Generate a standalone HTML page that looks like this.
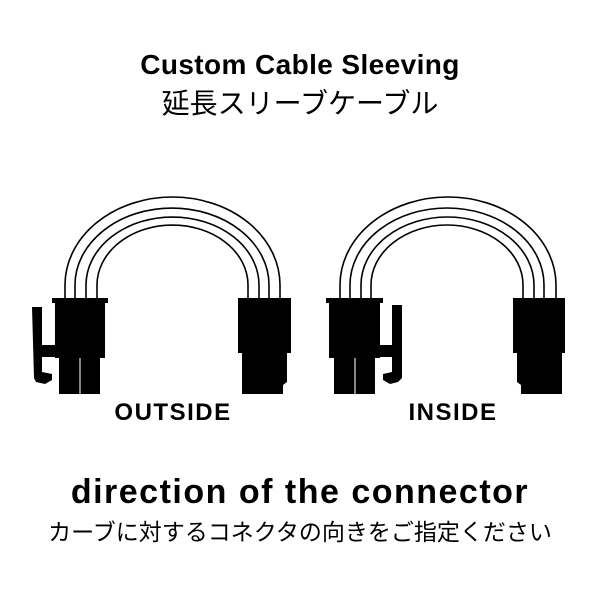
<!DOCTYPE html>
<html><head><meta charset="utf-8"><style>
body{margin:0;background:#fff;}
.w{position:relative;width:600px;height:600px;overflow:hidden;font-family:"Liberation Sans","Noto Sans CJK JP",sans-serif;}
.t{position:absolute;left:0;width:600px;text-align:center;white-space:nowrap;color:#000;line-height:1;}
</style></head><body><div class="w">
<div class="t" style="top:51px;font-size:28px;font-weight:bold;letter-spacing:0.4px;">Custom Cable Sleeving</div>
<div class="t" style="top:90px;font-size:28px;">延長スリーブケーブル</div>
<svg style="position:absolute;left:0;top:0" width="600" height="600">
<g fill="none" stroke="#000" stroke-width="1.6">
<path d="M65 298 L65 285 A107.5 88 0 0 1 280 285 L280 298"/>
<path d="M75 298 L75 285 A97 77 0 0 1 269 285 L269 298"/>
<path d="M86 298 L86 285 A86.5 68 0 0 1 259 285 L259 298"/>
<path d="M97 298 L97 285 A75.5 60 0 0 1 248 285 L248 298"/>
<path d="M340 298 L340 285 A108 88 0 0 1 556 285 L556 298"/>
<path d="M350 298 L350 285 A97 77 0 0 1 544 285 L544 298"/>
<path d="M361 298 L361 285 A86.5 68 0 0 1 534 285 L534 298"/>
<path d="M371 298 L371 285 A76 60 0 0 1 523 285 L523 298"/>
</g>
<g fill="#000">
<rect x="52" y="298" width="56" height="5"/>
<rect x="55" y="298" width="50" height="60"/>
<rect x="59" y="358" width="20" height="36"/>
<rect x="81" y="358" width="19" height="36"/>
<path d="M32 307 L42 307 L42 345 L55 345 L55 357 L42 357 L42 372 L52 374 L52 380 L45 384 L36 382 L34 378 Z"/>
<rect x="238" y="298" width="53" height="55"/>
<path d="M242 350 L287 350 L287 382 L283 385 L283 394 L242 394 Z"/>
<rect x="326" y="298" width="57" height="5"/>
<rect x="329" y="298" width="51" height="60"/>
<rect x="334" y="358" width="20" height="36"/>
<rect x="356" y="358" width="19" height="36"/>
<path d="M402 305 L392 305 L392 345 L380 345 L380 357 L392 357 L392 372 L383 374 L383 380 L390 384 L398 382 L402 378 Z"/>
<rect x="513" y="298" width="52" height="55"/>
<path d="M517 350 L562 350 L562 394 L521 394 L521 385 L517 382 Z"/>
</g>
<g fill="#888">
<rect x="79" y="358" width="2" height="36"/>
<rect x="354" y="358" width="2" height="36"/>
</g>
</svg>
<div class="t" style="left:73px;width:200px;top:401px;font-size:24px;font-weight:bold;letter-spacing:1.5px;">OUTSIDE</div>
<div class="t" style="left:353px;width:200px;top:401px;font-size:24px;font-weight:bold;letter-spacing:1.5px;">INSIDE</div>
<div class="t" style="top:475px;font-size:34px;font-weight:bold;letter-spacing:1.5px;">direction of the connector</div>
<div class="t" style="top:521px;font-size:23px;">カーブに対するコネクタの向きをご指定ください</div>
</div></body></html>
